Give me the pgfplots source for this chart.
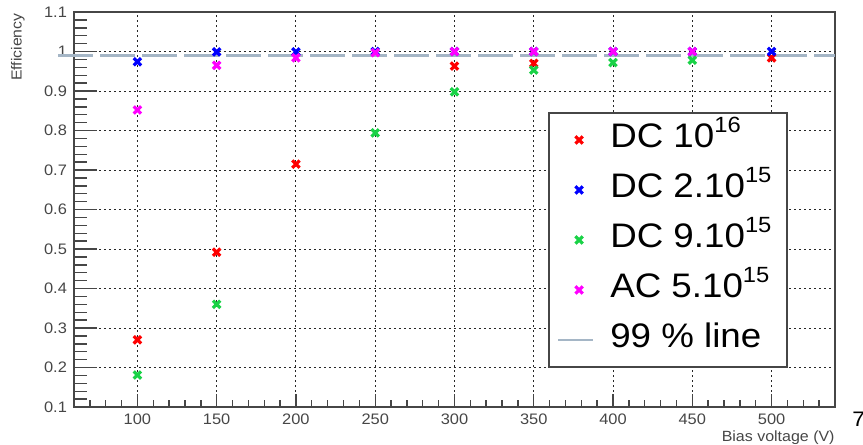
\documentclass[border=0pt]{standalone}
\usepackage{pgfplots}
\pgfplotsset{compat=1.18}
\usepackage{fontspec}
\setmainfont{Liberation Sans}[FakeStretch=1.08]

\definecolor{rgreen}{RGB}{25,210,70}
\definecolor{rmagenta}{RGB}{255,0,255}
\definecolor{rred}{RGB}{255,0,0}
\definecolor{rblue}{RGB}{0,0,255}
\definecolor{lineblue}{RGB}{165,182,198}
\definecolor{axgray}{RGB}{70,70,70}

% superscript as ROOT draws it
\newcommand\sups[1]{\raisebox{7.5pt}{\fontsize{11}{12}\selectfont #1}}

\pgfplotsset{
  pt/.style={only marks, mark=x, mark size=2.6pt, mark options={line width=1.6pt},
    legend image code/.code={
      \path[draw=none] (0pt,0pt) -- (22pt,0pt);
      \path[##1] plot[mark=x, only marks] coordinates {(15pt,0pt)};}},
  lineimg/.style={legend image code/.code={
      \path[draw=none] (0pt,0pt) -- (22pt,0pt);
      \draw[##1, solid] (4.5pt,0pt) -- (22pt,0pt);}},
}

\begin{document}
\begin{tikzpicture}
\begin{axis}[
  scale only axis, width=380.5pt, height=197.5pt,
  xmin=60, xmax=540, ymin=0.1, ymax=1.1,
  xtick={100,150,...,500},
  ytick={0.1,0.2,0.3,0.4,0.5,0.6,0.7,0.8,0.9,1,1.1},
  minor xtick={60,70,...,540},
  minor y tick num=4,
  tick pos=left, tick align=inside,
  major tick length=11.5pt, minor tick length=6.5pt,
  every major x tick/.append style={/pgfplots/major tick length=6.5pt},
  every minor x tick/.append style={/pgfplots/minor tick length=3.5pt},
  tick style={axgray, line width=0.7pt},
  axis line style={axgray, line width=1pt},
  grid=major,
  major grid style={black!85, line width=0.5pt, dash pattern=on 1pt off 1.5pt},
  /pgf/number format/assume math mode=true,
  ticklabel style={font=\fontsize{7.6}{9}\selectfont, color=axgray},
  yticklabel style={/pgf/number format/fixed, /pgf/number format/precision=1},
  xlabel={Bias voltage (V)},
  ylabel={Efficiency},
  xlabel style={at={(rel axis cs:1,0)}, anchor=north east, yshift=-11.5pt,
    inner sep=0pt, font=\fontsize{7.4}{9}\selectfont, color=axgray},
  ylabel style={at={(rel axis cs:-0.0644,0.997)}, anchor=south east,
    inner sep=0pt, font=\fontsize{7.3}{9}\selectfont, color=axgray},
  clip=false,
  legend cell align=left,
  legend style={at={(rel axis cs:0.623,0.747)}, anchor=north west,
    draw=axgray, line width=1pt, fill=white,
    font=\fontsize{17}{20}\selectfont,
    inner xsep=0pt, inner ysep=1pt, row sep=0pt,
    nodes={inner xsep=8pt, inner ysep=0pt, text height=16.5pt, text depth=8.5pt}},
]
\addplot[rred, pt] coordinates {(100,0.27)(150,0.492)(200,0.715)(300,0.963)(350,0.970)(500,0.984)};
\addlegendentry{DC 10\sups{16}}
\addplot[rblue, pt] coordinates {(100,0.974)(150,0.999)(200,0.999)(250,1)(300,1)(350,1)(400,1)(450,1)(500,1)};
\addlegendentry{DC 2.10\sups{15}}
\addplot[rgreen, pt] coordinates {(100,0.181)(150,0.36)(250,0.794)(300,0.898)(350,0.953)(400,0.972)(450,0.978)};
\addlegendentry{DC 9.10\sups{15}}
\addplot[rmagenta, pt] coordinates {(100,0.852)(150,0.965)(200,0.984)(250,0.997)(300,1)(350,1)(400,1)(450,1)};
\addlegendentry{AC 5.10\sups{15}}
\addplot[lineblue, sharp plot, no marks, line width=1.2pt, dash pattern=on 17.5pt off 3.5pt, lineimg]
  coordinates {(50,0.99)(540,0.99)};
\addlegendentry{99 \% line}

\node[anchor=north west, inner sep=0pt, font=\fontsize{10.5}{12}\selectfont]
  at ([xshift=8.5pt,yshift=-2.5pt]rel axis cs:1,0) {7};
\coordinate (bbsw) at (rel axis cs:-0.0972,-0.0937);
\coordinate (bbne) at (rel axis cs:1.0368,1.0304);
\end{axis}
\pgfresetboundingbox
\useasboundingbox (bbsw) rectangle (bbne);
\end{tikzpicture}
\end{document}
